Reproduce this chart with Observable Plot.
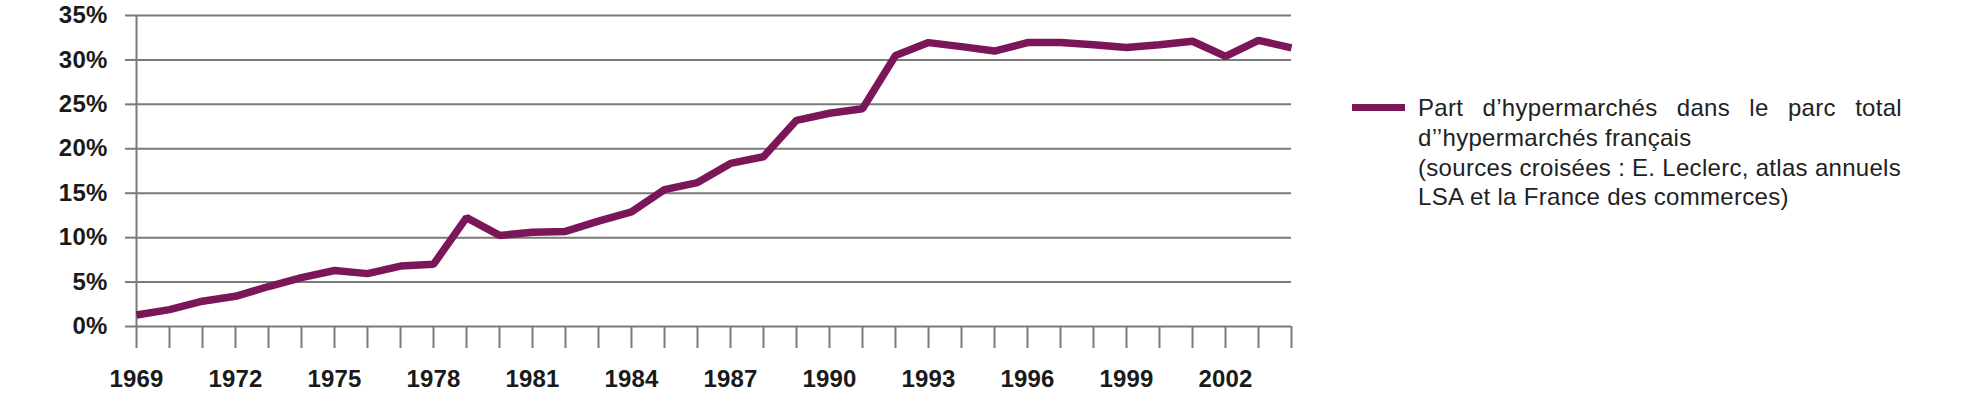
<!DOCTYPE html>
<html>
<head>
<meta charset="utf-8">
<script src="https://cdn.jsdelivr.net/npm/d3@7"></script>
<script src="https://cdn.jsdelivr.net/npm/@observablehq/plot@0.6"></script>
<style>
  html, body { margin: 0; padding: 0; background: #fff; }
  #wrap { position: relative; width: 1961px; height: 393px; overflow: hidden; }
  #legend { position: absolute; left: 1352px; top: 93px; }
  #legend .swatch { position: absolute; left: 0; top: 11px; width: 53px; height: 7px; background: #7b1759; }
  #legend .text { position: absolute; left: 66px; top: 0; width: 484px;
    font-family: "Liberation Sans", Arial, sans-serif; font-size: 24px; letter-spacing: 0.3px;
    line-height: 29.8px; color: #222; }
  #legend .l1 { text-align: justify; text-align-last: justify; white-space: nowrap; }
  #legend .ln { white-space: nowrap; }
</style>
</head>
<body>
<div id="wrap">
  <div id="chart"></div>
  <div id="legend">
    <div class="swatch"></div>
    <div class="text">
      <div class="l1" id="leg1"></div>
      <div class="ln" id="leg2"></div>
      <div class="ln" id="leg3"></div>
      <div class="ln" id="leg4"></div>
    </div>
  </div>
</div>
<script>
const years = [1969, 1970, 1971, 1972, 1973, 1974, 1975, 1976, 1977, 1978, 1979, 1980,
  1981, 1982, 1983, 1984, 1985, 1986, 1987, 1988, 1989, 1990, 1991, 1992,
  1993, 1994, 1995, 1996, 1997, 1998, 1999, 2000, 2001, 2002, 2003, 2004];
const share = [1.3, 1.9, 2.85, 3.4, 4.5, 5.5, 6.3, 5.95, 6.8, 7.0, 12.25, 10.25,
  10.6, 10.7, 11.85, 12.9, 15.4, 16.2, 18.35, 19.1, 23.2, 24.0, 24.5, 30.5,
  31.95, 31.5, 31.0, 31.95, 31.95, 31.7, 31.4, 31.7, 32.1, 30.4, 32.2, 31.35];
const xTickLabels = [1969, 1972, 1975, 1978, 1981, 1984, 1987, 1990, 1993, 1996, 1999, 2002];
const yTicks = [0, 5, 10, 15, 20, 25, 30, 35];
const legendLines = [
  "Part d\u2019hypermarchés dans le parc total",
  "d\u2019\u2019hypermarchés français",
  "(sources croisées : E. Leclerc, atlas annuels",
  "LSA et la France des commerces)"
];

const data = years.map((y, i) => ({year: y, value: share[i]}));
const gray = "#7a7a7a";

const chart = Plot.plot({
  width: 1961,
  height: 393,
  marginLeft: 136,
  marginRight: 670,
  marginTop: 15,
  marginBottom: 67,
  style: {
    fontFamily: "'Liberation Sans', Arial, sans-serif",
    fontSize: "24px",
    fontWeight: "bold",
    color: "#1a1a1a",
    letterSpacing: "0.2px",
    background: "#fff"
  },
  x: {domain: [1969, 2004]},
  y: {domain: [0, 35]},
  marks: [
    Plot.ruleY(yTicks, {stroke: gray, strokeWidth: 2}),
    Plot.axisY({ticks: yTicks, tickSize: 11, tickPadding: 18, tickFormat: d => d + "%",
      stroke: gray, strokeWidth: 2, strokeOpacity: 1, fontSize: 24, label: null}),
    Plot.ruleX([1969], {y1: 0, y2: 35, stroke: gray, strokeWidth: 2}),
    Plot.axisX({ticks: years, tickSize: 22, tickFormat: () => "", stroke: gray,
      strokeWidth: 2, strokeOpacity: 1, label: null}),
    Plot.axisX({ticks: xTickLabels, tickSize: 0, tickPadding: 43, fontSize: 24,
      tickFormat: d => String(d), label: null}),
    Plot.line(data, {x: "year", y: "value", stroke: "#7b1759", strokeWidth: 7.5,
      strokeLinejoin: "miter", strokeLinecap: "butt"})
  ]
});
document.getElementById("chart").appendChild(chart);
legendLines.forEach((t, i) => { document.getElementById("leg" + (i + 1)).textContent = t; });
</script>
</body>
</html>
